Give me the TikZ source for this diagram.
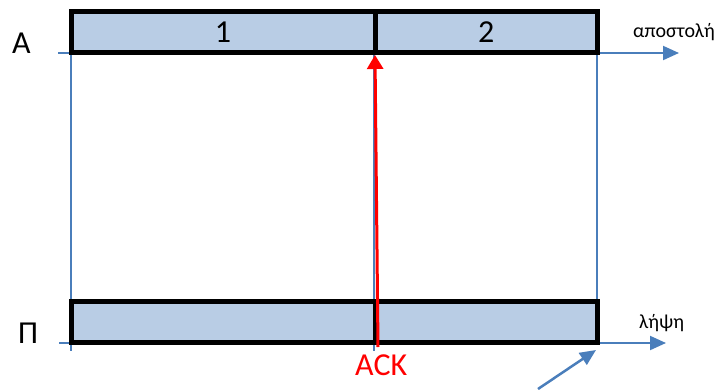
\documentclass[tikz,border=0pt]{standalone}
\usepackage{fontspec}
\setmainfont{Carlito}
\usetikzlibrary{arrows.meta}
\definecolor{cellblue}{HTML}{B9CDE5}
\definecolor{lineblue}{HTML}{4A7EBB}
\begin{document}
\begin{tikzpicture}[x=1pt,y=-1pt,
  cell/.style={draw=black,line width=5pt,fill=cellblue,minimum height=41pt,inner sep=0pt,font=\fontsize{32}{32}\selectfont},
  axis/.style={draw=lineblue,line width=2pt},
  guide/.style={draw=lineblue,line width=1.3pt},
  axisarrow/.style={axis,-{Triangle[length=16pt,width=14pt]}},
  lbl/.style={font=\fontsize{32}{32}\selectfont,inner sep=0pt,anchor=base west},
  glbl/.style={font=\fontsize{20}{20}\selectfont,inner sep=0pt,anchor=base west}]
\useasboundingbox (0,0) rectangle (724,389);
% coordinates
\coordinate (tl) at (58,53);
\coordinate (tr) at (679,53);
\coordinate (bl) at (59,343);
\coordinate (br) at (666,343);
\coordinate (v1t) at (71,53);
\coordinate (v1b) at (71,351);
\coordinate (v2t) at (374,53);
\coordinate (v2b) at (374,351);
\coordinate (v3t) at (597,53);
\coordinate (v3b) at (597,343);
\coordinate (dS) at (538,389);
\coordinate (dE) at (596,350);
\coordinate (ackS) at (378,347);
\coordinate (ackE) at (375,55);
% blue axes
\draw[axisarrow] (tl) -- (tr);
\draw[axisarrow] (bl) -- (br);
\draw[guide] (v1t) -- (v1b);
\draw[guide] (v2t) -- (v2b);
\draw[guide] (v3t) -- (v3b);
\draw[axisarrow,line width=2.5pt] (dS) -- (dE);
% cells
\node[cell,minimum width=304pt] (c1) at (223,32) {1};
\node[cell,minimum width=222.5pt] (c2) at (486.25,32) {2};
\node[cell,minimum width=304pt] (d1) at (223,322) {};
\node[cell,minimum width=222.5pt] (d2) at (486.25,322) {};
% ACK arrow
\draw[red,line width=3pt,-{Triangle[length=14pt,width=16pt]}] (ackS) -- (ackE);
% labels
\node[lbl] (lA) at (12,53) {Α};
\node[lbl] (lP) at (18,343) {Π};
\node[lbl,text=red] (lack) at (355,375) {ACK};
\node[glbl] (lsend) at (633,37) {αποστολή};
\node[glbl] (lrecv) at (639,328) {λήψη};
\end{tikzpicture}
\end{document}
